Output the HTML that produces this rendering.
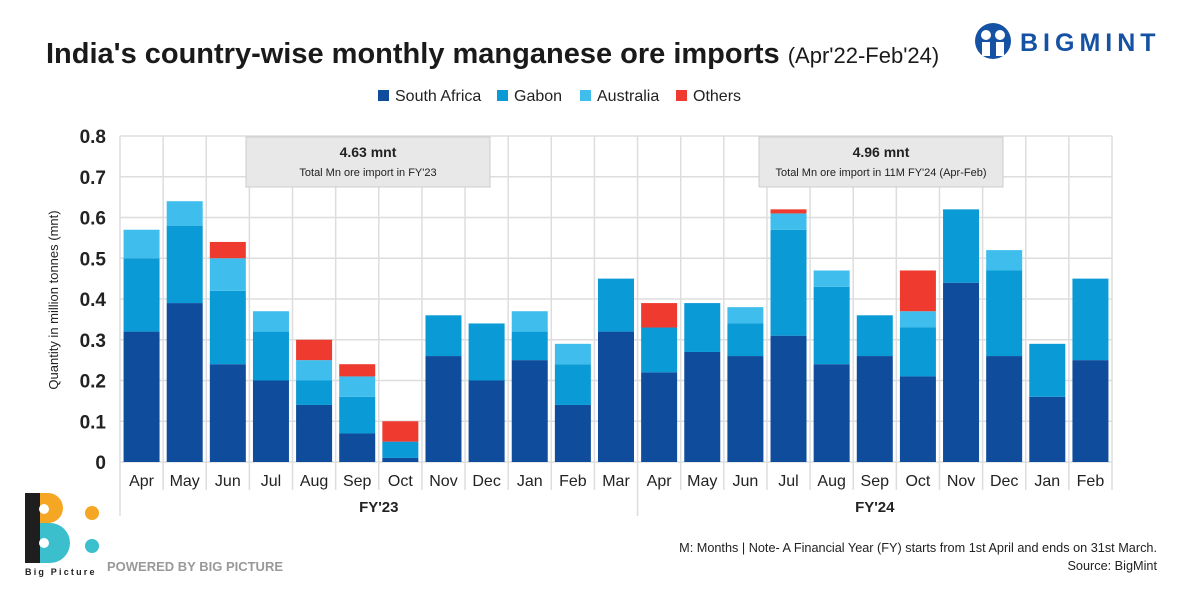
<!DOCTYPE html>
<html><head><meta charset="utf-8"><style>
body{margin:0;background:#fff;font-family:"Liberation Sans",sans-serif}
svg{display:block}
</style></head><body>
<svg id="c" width="1200" height="600" viewBox="0 0 1200 600">
<text x="46" y="63" font-size="29" font-weight="bold" fill="#1a1a1a">India's country-wise monthly manganese ore imports <tspan font-size="22" font-weight="normal">(Apr'22-Feb'24)</tspan></text>
<g>
<circle cx="993" cy="41" r="18" fill="#1552a3"/>
<circle cx="986" cy="35" r="5" fill="#fff"/><circle cx="1000" cy="35" r="5" fill="#fff"/>
<rect x="982" y="42" width="8" height="14" fill="#fff"/><rect x="996" y="42" width="8" height="14" fill="#fff"/>
<text x="1020" y="51" font-size="25" font-weight="bold" fill="#1552a3" letter-spacing="5">BIGMINT</text>
</g>
<g id="legend"></g>
<g id="plot"></g>
<text transform="translate(58,300) rotate(-90)" text-anchor="middle" font-size="13" fill="#222">Quantity in million tonnes (mnt)</text>
<g>
<rect x="246" y="137" width="244" height="50" fill="#e8e8e8" stroke="#ccc"/>
<text x="368" y="157" text-anchor="middle" font-size="14" font-weight="bold" fill="#222">4.63 mnt</text>
<text x="368" y="176" text-anchor="middle" font-size="11" fill="#222">Total Mn ore import in FY'23</text>
</g>
<g>
<rect x="759" y="137" width="244" height="50" fill="#e8e8e8" stroke="#ccc"/>
<text x="881" y="157" text-anchor="middle" font-size="14" font-weight="bold" fill="#222">4.96 mnt</text>
<text x="881" y="176" text-anchor="middle" font-size="11" fill="#222">Total Mn ore import in 11M FY'24 (Apr-Feb)</text>
</g>
<g>
<path d="M25 493 h15 v70 h-15 z" fill="#1e1e1e"/>
<path d="M40 493 h8 a15 15 0 0 1 0 30 h-8 z" fill="#f5a623"/>
<path d="M40 523 h10 a19 19 0 0 1 0 40 h-10 z" fill="#3bbfcc"/>
<circle cx="44" cy="509" r="5" fill="#fff"/><circle cx="44" cy="543" r="5" fill="#fff"/>
<circle cx="92" cy="513" r="7" fill="#f5a623"/><circle cx="92" cy="546" r="7" fill="#3bbfcc"/>
<text x="25" y="575" font-size="9" font-weight="bold" fill="#222" letter-spacing="2.2">Big Picture</text>
<text x="107" y="571" font-size="13" font-weight="bold" fill="#999">POWERED BY BIG PICTURE</text>
</g>
<text x="1157" y="552" text-anchor="end" font-size="12.7" fill="#222">M: Months | Note- A Financial Year (FY) starts from 1st April and ends on 31st March.</text>
<text x="1157" y="570" text-anchor="end" font-size="12.7" fill="#222">Source: BigMint</text>
</svg>
<script>
const months=["Apr","May","Jun","Jul","Aug","Sep","Oct","Nov","Dec","Jan","Feb","Mar","Apr","May","Jun","Jul","Aug","Sep","Oct","Nov","Dec","Jan","Feb"];
const southAfrica=[0.32,0.39,0.24,0.20,0.14,0.07,0.01,0.26,0.20,0.25,0.14,0.32,0.22,0.27,0.26,0.31,0.24,0.26,0.21,0.44,0.26,0.16,0.25];
const gabon=[0.18,0.19,0.18,0.12,0.06,0.09,0.04,0.10,0.14,0.07,0.10,0.13,0.11,0.12,0.08,0.26,0.19,0.10,0.12,0.18,0.21,0.13,0.20];
const australia=[0.07,0.06,0.08,0.05,0.05,0.05,0,0,0,0.05,0.05,0,0,0,0.04,0.04,0.04,0,0.04,0,0.05,0,0];
const others=[0,0,0.04,0,0.05,0.03,0.05,0,0,0,0,0,0.06,0,0,0.01,0,0,0.10,0,0,0,0];
const yTicks=[0,0.1,0.2,0.3,0.4,0.5,0.6,0.7,0.8];
const seriesNames=["South Africa","Gabon","Australia","Others"];
const colors=["#0f4c9c","#0a9ad6","#3fbeed","#ef3a2f"];
const NS="http://www.w3.org/2000/svg";
const X0=120,X1=1112,Y0=462,YT=136;
const step=(X1-X0)/months.length,bw=36;
const y=v=>Y0-(v/0.8)*(Y0-YT);
const xc=i=>X0+step*(i+0.5);
const plot=document.getElementById('plot');
function mk(t,a,p){const e=document.createElementNS(NS,t);for(const k in a)e.setAttribute(k,a[k]);(p||plot).appendChild(e);return e;}
yTicks.forEach(v=>{
 const l=mk('line',{x1:X0,x2:X1,y1:y(v),y2:y(v),stroke:'#ddd','stroke-width':1.5});
 
 
 const t=mk('text',{x:106,y:y(v)+7,'text-anchor':'end','font-size':19,'font-weight':'bold',fill:'#222'});
 t.textContent=v===0?'0':v.toFixed(1);
 
 
});
for(let i=0;i<=months.length;i++){
 const x=X0+step*i;
 const big=(i===0||i===12);
 const l=mk('line',{x1:x,x2:x,y1:YT,y2:big?516:490,stroke:'#ddd','stroke-width':1.5});
 
 
}
const series=[southAfrica,gabon,australia,others];
months.forEach((m,i)=>{
 let base=0;
 series.forEach((s,k)=>{
  if(s[i]>0){
   const r=mk('rect',{x:xc(i)-bw/2,y:y(base+s[i]),width:bw,height:y(base)-y(base+s[i]),fill:colors[k]});
   
   
  }
  base+=s[i];
 });
 const t=mk('text',{x:xc(i),y:486,'text-anchor':'middle','font-size':16,fill:'#222'});
 t.textContent=m;
 
 
});
[["FY'23",0,12],["FY'24",12,23]].forEach(g=>{
 const t=mk('text',{x:(X0+step*g[1]+X0+step*g[2])/2,y:512,'text-anchor':'middle','font-size':15,'font-weight':'bold',fill:'#222'});
 t.textContent=g[0];
 
 
});
const lg=document.getElementById('legend');
const lx=[378,497,580,676];
seriesNames.forEach((n,k)=>{
 const r=mk('rect',{x:lx[k],y:90,width:11,height:11,fill:colors[k]},lg);
 
 
 const t=mk('text',{x:lx[k]+17,y:101,'font-size':16,fill:'#222'},lg);
 t.textContent=n;
 
 
});
</script>
</body></html>
